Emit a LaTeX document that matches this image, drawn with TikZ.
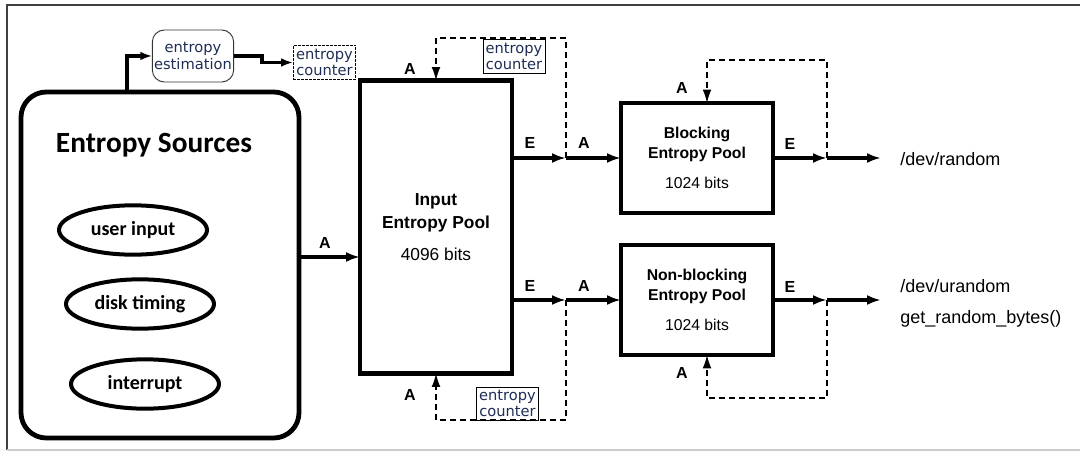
\documentclass[tikz,border=0pt]{standalone}
\usepackage{fontspec}
\setmainfont{Liberation Sans}
\newfontfamily\calib{Carlito}
\newfontfamily\dvs{DejaVu Sans}
\usetikzlibrary{arrows.meta,shapes.geometric,calc}
\definecolor{cnttext}{RGB}{30,45,85}
\begin{document}
\begin{tikzpicture}[x=0.75pt,y=-0.75pt,
  srcbox/.style={draw, line width=3.6pt, rounded corners=19pt, inner sep=0pt, outer sep=0pt,
    minimum width=208.5pt, minimum height=259.5pt},
  ell/.style={ellipse, draw, line width=3pt, inner sep=0pt, outer sep=0pt,
    minimum width=111pt, minimum height=37pt, font=\calib\bfseries\fontsize{15}{17}\selectfont},
  pool/.style={draw, line width=3.3pt, rectangle, inner sep=0pt, outer sep=0pt, align=center,
    minimum width=114pt},
  flow/.style={line width=2.6pt, -{Latex[length=10.5pt,width=7.5pt]}},
  fb/.style={line width=0.9pt, dash pattern=on 4.5pt off 3pt, -{Latex[length=10pt,width=6.5pt]}},
  lab/.style={font=\bfseries\fontsize{12}{14}\selectfont, inner sep=0pt},
  cnt/.style={draw, line width=0.6pt, font=\dvs\fontsize{11}{12.3}\selectfont, text=cnttext,
    align=center, inner sep=0pt, outer sep=0pt, minimum width=47pt, minimum height=25.5pt},
  est/.style={draw=black!80, line width=0.7pt, rounded corners=9pt, font=\dvs\fontsize{11}{12.3}\selectfont,
    text=cnttext, align=center, inner sep=0pt, outer sep=0pt, minimum width=61pt, minimum height=39pt},
  outtext/.style={anchor=west, inner sep=0pt, font=\fontsize{13.5}{16}\selectfont}
]
\useasboundingbox (0,0) rectangle (1080,452);
% frame
\draw[black!75, line width=1.2pt] (1080,5) -- (7,5) -- (7,450);
\draw[black!20, line width=1pt] (7,450) -- (1080,450);

% entropy sources
\node[srcbox] (src) at (160,265) {};
\node[font=\calib\bfseries\fontsize{22}{25}\selectfont, inner sep=0pt] (title) at (154,145) {Entropy Sources};
\node[ell] (e1) at (133,230) {user input};
\node[ell] (e2) at (140,304) {disk timing};
\node[ell] (e3) at (145,384) {interrupt};

% estimation
\node[est] (est) at (193,56) {entropy\\estimation};
\node[cnt, dash pattern=on 2pt off 1pt] (cnt1) at (324.5,62.5) {entropy\\counter};
\coordinate (s1) at (127,92);
\coordinate (k) at (262,56);
\draw[line width=2.4pt, -{Latex[length=9pt,width=6.5pt]}] (s1) |- (est.west);
\draw[line width=2.4pt, -{Latex[length=9pt,width=6.5pt]}] (est.east) -- (k) |- (cnt1.west);

% pools
\node[pool, minimum height=219.75pt, font=\fontsize{13}{17.25}\selectfont] (in) at (436,227)
  {\textbf{Input}\\\textbf{Entropy Pool}\\[6.75pt]4096 bits};
\node[pool, minimum height=82.5pt, font=\fontsize{11.8}{15}\selectfont] (blk) at (697,158)
  {\textbf{Blocking}\\\textbf{Entropy Pool}\\[7.5pt]1024 bits};
\node[pool, minimum height=82.5pt, font=\fontsize{11.8}{15}\selectfont] (nbl) at (697,300)
  {\textbf{Non-blocking}\\\textbf{Entropy Pool}\\[7.5pt]1024 bits};

% counters
\node[cnt, minimum width=46.5pt] (cnt2) at (514,56.5) {entropy\\counter};
\node[cnt, minimum width=46.5pt, minimum height=24.75pt] (cnt3) at (507.5,403.5) {entropy\\counter};

% input arrow
\coordinate (ain) at (299,257);
\draw[flow] (ain) -- (in.west |- ain);
\node[lab] (lA0) at (325,243) {A};

% junctions
\coordinate (j1) at (566,158);
\coordinate (j2) at (566,300);
\coordinate (j3) at (827,158);
\coordinate (j4) at (827,300);
\coordinate (o1) at (881,158);
\coordinate (o2) at (881,300);

\draw[flow] (in.east |- j1) -- (j1);
\draw[flow] (j1) -- (blk.west);
\draw[flow] (in.east |- j2) -- (j2);
\draw[flow] (j2) -- (nbl.west);
\draw[flow] (blk.east) -- (j3);
\draw[flow] (j3) -- (o1);
\draw[flow] (nbl.east) -- (j4);
\draw[flow] (j4) -- (o2);

\node[lab] (lE1) at (530,143) {E};
\node[lab] (lA1) at (584,143) {A};
\node[lab] (lE2) at (530,286) {E};
\node[lab] (lA2) at (584,286) {A};
\node[lab] (lE3) at (790,144) {E};
\node[lab] (lE4) at (790,287) {E};

% feedback loops
\coordinate (t1) at (566,38);
\coordinate (b1) at (566,420);
\draw[fb] (j1) -- (t1) -| (in.north);
\draw[fb] (j2) -- (b1) -| (in.south);
\node[lab] (lAt) at (410,69) {A};
\node[lab] (lAb) at (410,395) {A};

\coordinate (t2) at (827,60);
\coordinate (t2b) at (707,60);
\coordinate (b2) at (827,398);
\coordinate (b2b) at (707,398);
\draw[fb] (j3) -- (t2) -- (t2b) -- (t2b |- blk.north);
\draw[fb] (j4) -- (b2) -- (b2b) -- (b2b |- nbl.south);
\node[lab] (lAbt) at (682,88) {A};
\node[lab] (lAnb) at (682,373) {A};

% outputs
\node[outtext] (dr) at (900,159) {/dev/random};
\node[outtext] (du) at (900,286) {/dev/urandom};
\node[outtext] (gr) at (900,319) {get\_random\_bytes()};
\end{tikzpicture}
\end{document}
